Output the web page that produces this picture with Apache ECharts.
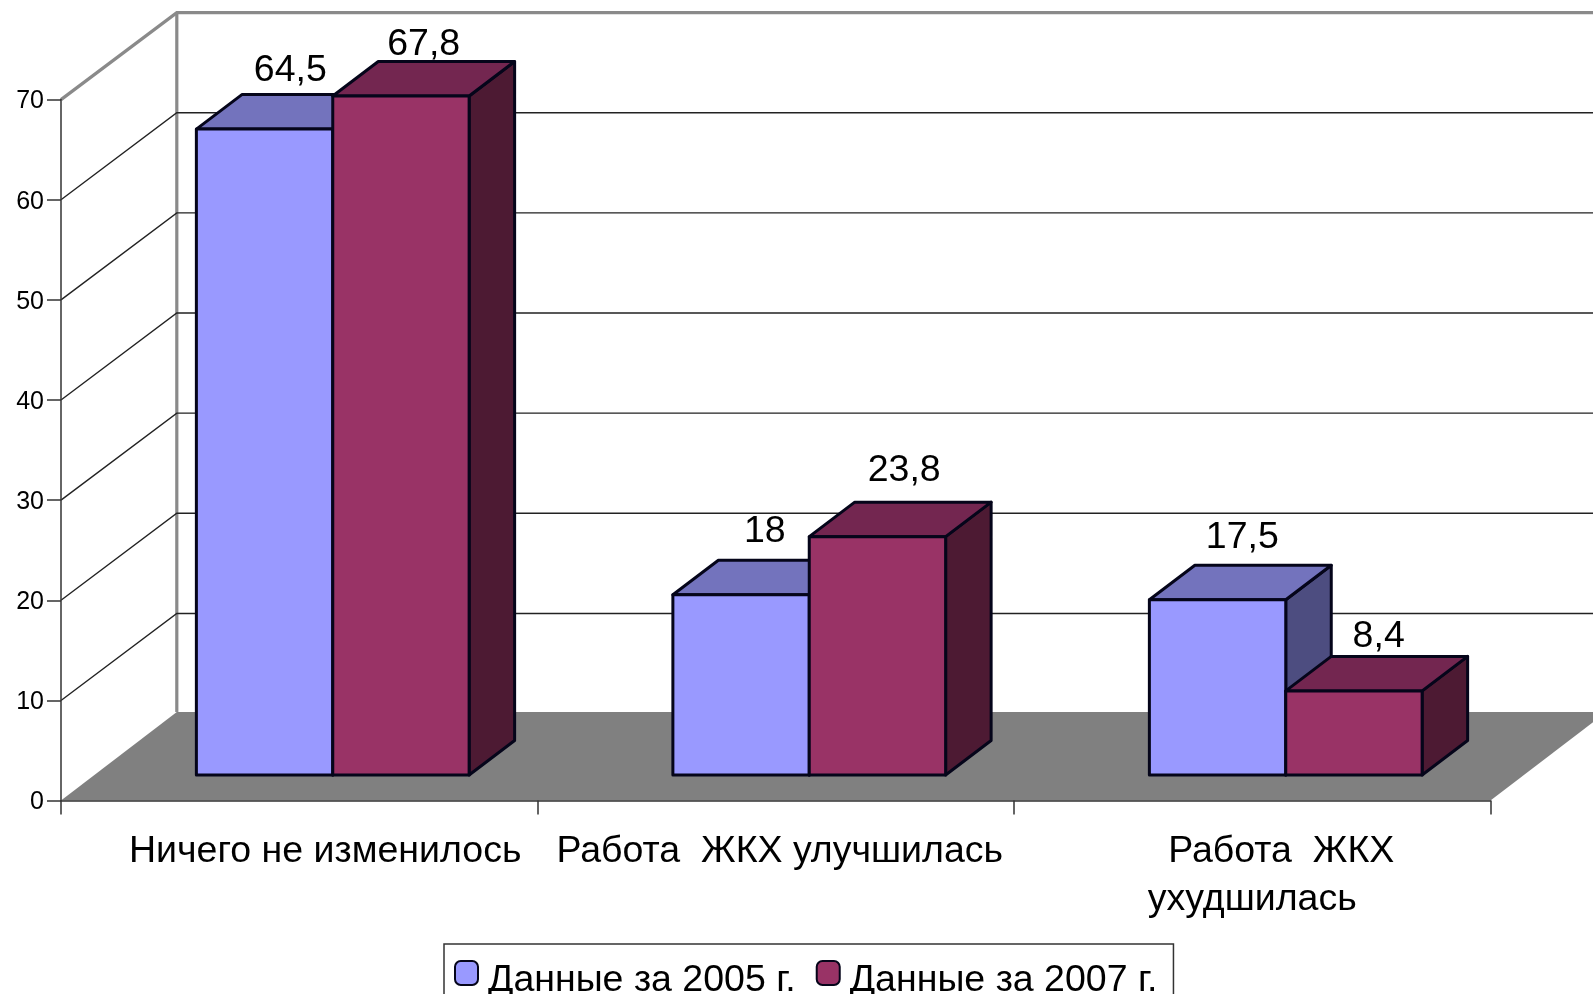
<!DOCTYPE html>
<html><head><meta charset="utf-8">
<style>html,body{margin:0;padding:0;background:#fff}#c{width:1593px;height:994px}</style>
<script src="https://cdn.jsdelivr.net/npm/echarts@6/dist/echarts.min.js"></script>
</head><body><div id="c"></div>
<script>
const categories = ['Ничего не изменилось', 'Работа  ЖКХ улучшилась', 'Работа  ЖКХ\nухудшилась'];
const series2005 = [64.5, 18, 17.5];
const series2007 = [67.8, 23.8, 8.4];
const seriesNames = ['Данные за 2005 г.', 'Данные за 2007 г.'];
const gridValues = [10, 20, 30, 40, 50, 60];
const yMax = 70, yStep = 10;

const FONT = '"Liberation Sans", Arial, sans-serif';
const FS = 37.5;
const WALL_DX = 115.8, WALL_DY = -87;        // wall depth on screen
const BAR_DX = 45.5, BAR_DY = -34.5;         // bar depth on screen
const PLANE_DX = 33.5, PLANE_DY = -25.6;     // front face of the bars, behind the axis plane
const BAR_RATIO = 0.2862;                    // bar width / category band
const EDGE = '#05051a';
const palettes = [
  {front:'#9999FF', top:'#7373BD', side:'#4D4D80'},
  {front:'#993366', top:'#732650', side:'#4D1A33'}
];
const labelLift = [[-24,-29,-28],[-17,-32,-19.5]];
const labelShift = [[3,1,2],[0,4,2]];

function poly(points, fill){
  return {type:'polygon', shape:{points}, style:{fill, stroke:EDGE, lineWidth:3, lineJoin:'round'}};
}
function barRenderer(si){
  return function(params, api){
    const cat = api.value(0), val = api.value(1);
    const base = api.coord([cat, 0]), top = api.coord([cat, val]);
    const band = api.size([1, 0])[0];
    const w = band * BAR_RATIO;
    const xl = base[0] + PLANE_DX + (si - 1) * w, xr = xl + w;
    const yb = base[1] + PLANE_DY, yt = top[1] + PLANE_DY;
    const p = palettes[si];
    return {type:'group', children:[
      poly([[xr,yt],[xr+BAR_DX,yt+BAR_DY],[xr+BAR_DX,yb+BAR_DY],[xr,yb]], p.side),
      poly([[xl,yt],[xl+BAR_DX,yt+BAR_DY],[xr+BAR_DX,yt+BAR_DY],[xr,yt]], p.top),
      poly([[xl,yt],[xr,yt],[xr,yb],[xl,yb]], p.front),
      {type:'text', z2:10, style:{
        text:String(val).replace('.', ','),
        x:(xl+xr)/2 + BAR_DX/2 + labelShift[si][cat],
        y:yt + BAR_DY + labelLift[si][cat],
        align:'center', verticalAlign:'middle',
        font:FS + 'px ' + FONT, fill:'#000'
      }}
    ]};
  };
}
function wallRenderer(params, api){
  const band = api.size([1, 0])[0];
  const o = api.coord([0, 0]), t = api.coord([0, yMax]);
  const xl = o[0] - band/2, xr = api.coord([2, 0])[0] + band/2;
  const y0 = o[1], y1 = t[1];
  const gray = {stroke:'#8a8a8a', lineWidth:3.2, fill:null};
  return {type:'group', children:[
    {type:'polygon', shape:{points:[[xl,y0],[xr,y0],[xr+WALL_DX,y0-88.5],[xl+WALL_DX,y0-88.5]]}, style:{fill:'#808080'}},
    {type:'polyline', shape:{points:[[xl,y1],[xl+WALL_DX,y1+WALL_DY],[xr+WALL_DX,y1+WALL_DY]]}, style:gray},
    {type:'line', shape:{x1:xl+WALL_DX,y1:y1+WALL_DY,x2:xl+WALL_DX,y2:y0-88.5}, style:gray}
  ]};
}
function gridRenderer(params, api){
  const band = api.size([1, 0])[0];
  const p = api.coord([0, api.value(0)]);
  const xl = p[0] - band/2, xr = api.coord([2, 0])[0] + band/2;
  return {type:'polyline', shape:{points:[[xl,p[1]],[xl+WALL_DX,p[1]+WALL_DY],[xr+WALL_DX,p[1]+WALL_DY]]},
    style:{stroke:'#222', lineWidth:1.4, fill:null}};
}
const chart = echarts.init(document.getElementById('c'), null, {renderer:'canvas'});
const richBase = {fontSize:FS, fontFamily:FONT, color:'#000', lineHeight:48};
chart.setOption({
  animation:false,
  backgroundColor:'#fff',
  grid:{left:61, right:102.5, top:99.6, bottom:193.4, containLabel:false},
  xAxis:{type:'category', data:categories, boundaryGap:true, z:5,
    axisLine:{lineStyle:{color:'#333', width:1.5}},
    axisTick:{show:true, alignWithLabel:false, length:14, lineStyle:{color:'#333', width:1.5}},
    axisLabel:{
      interval:0, margin:27, color:'#000', fontFamily:FONT, fontSize:FS, lineHeight:48,
      formatter:function(v, i){
        if(i===0) return '{a|'+v+'}';
        if(i===1) return '{b|'+v+'}';
        const parts = v.split('\n');
        return '{c|'+parts[0]+'}\n{d|'+parts[1]+'}';
      },
      rich:{
        a:Object.assign({padding:[0,0,0,52]}, richBase),
        b:Object.assign({padding:[0,0,0,8]}, richBase),
        c:Object.assign({padding:[0,0,0,58]}, richBase),
        d:Object.assign({}, richBase)
      }
    }},
  yAxis:{type:'value', min:0, max:yMax, interval:yStep, z:5,
    axisLine:{show:true, lineStyle:{color:'#333', width:1.5}},
    axisTick:{show:true, length:14, lineStyle:{color:'#333', width:1.5}},
    axisLabel:{margin:17, color:'#000', fontFamily:FONT, fontSize:25,
      formatter:function(v){ return '{v|'+v+'}'; },
      rich:{v:{fontSize:25, fontFamily:FONT, color:'#000', lineHeight:34, padding:[4,0,0,0]}}},
    splitLine:{show:false}},
  legend:{
    data:seriesNames, left:444, top:944, orient:'horizontal',
    padding:[2,16,20,10], itemGap:20, itemWidth:23, itemHeight:24,
    icon:'roundRect', borderColor:'#333', borderWidth:1.5, backgroundColor:'#fff',
    selectedMode:false,
    formatter:function(n){ return '{t|'+n+'}'; },
    textStyle:{color:'#000', fontFamily:FONT, fontSize:FS,
      rich:{t:{fontSize:FS, fontFamily:FONT, color:'#000', lineHeight:30, padding:[16,0,0,5]}}}
  },
  series:[
    {type:'custom', name:'walls', z:1, silent:true, data:[[0]], renderItem:wallRenderer, encode:{x:-1,y:-1}},
    {type:'custom', name:'grid', z:1, silent:true, data:gridValues.map(v=>[v]), renderItem:gridRenderer, encode:{x:-1,y:0}},
    {type:'custom', name:seriesNames[0], z:2, silent:true, renderItem:barRenderer(0),
      data:series2005.map((v,i)=>[i,v]), encode:{x:0,y:1},
      itemStyle:{color:palettes[0].front, borderColor:EDGE, borderWidth:3}},
    {type:'custom', name:seriesNames[1], z:3, silent:true, renderItem:barRenderer(1),
      data:series2007.map((v,i)=>[i,v]), encode:{x:0,y:1},
      itemStyle:{color:palettes[1].front, borderColor:EDGE, borderWidth:3}}
  ]
});
</script></body></html>
